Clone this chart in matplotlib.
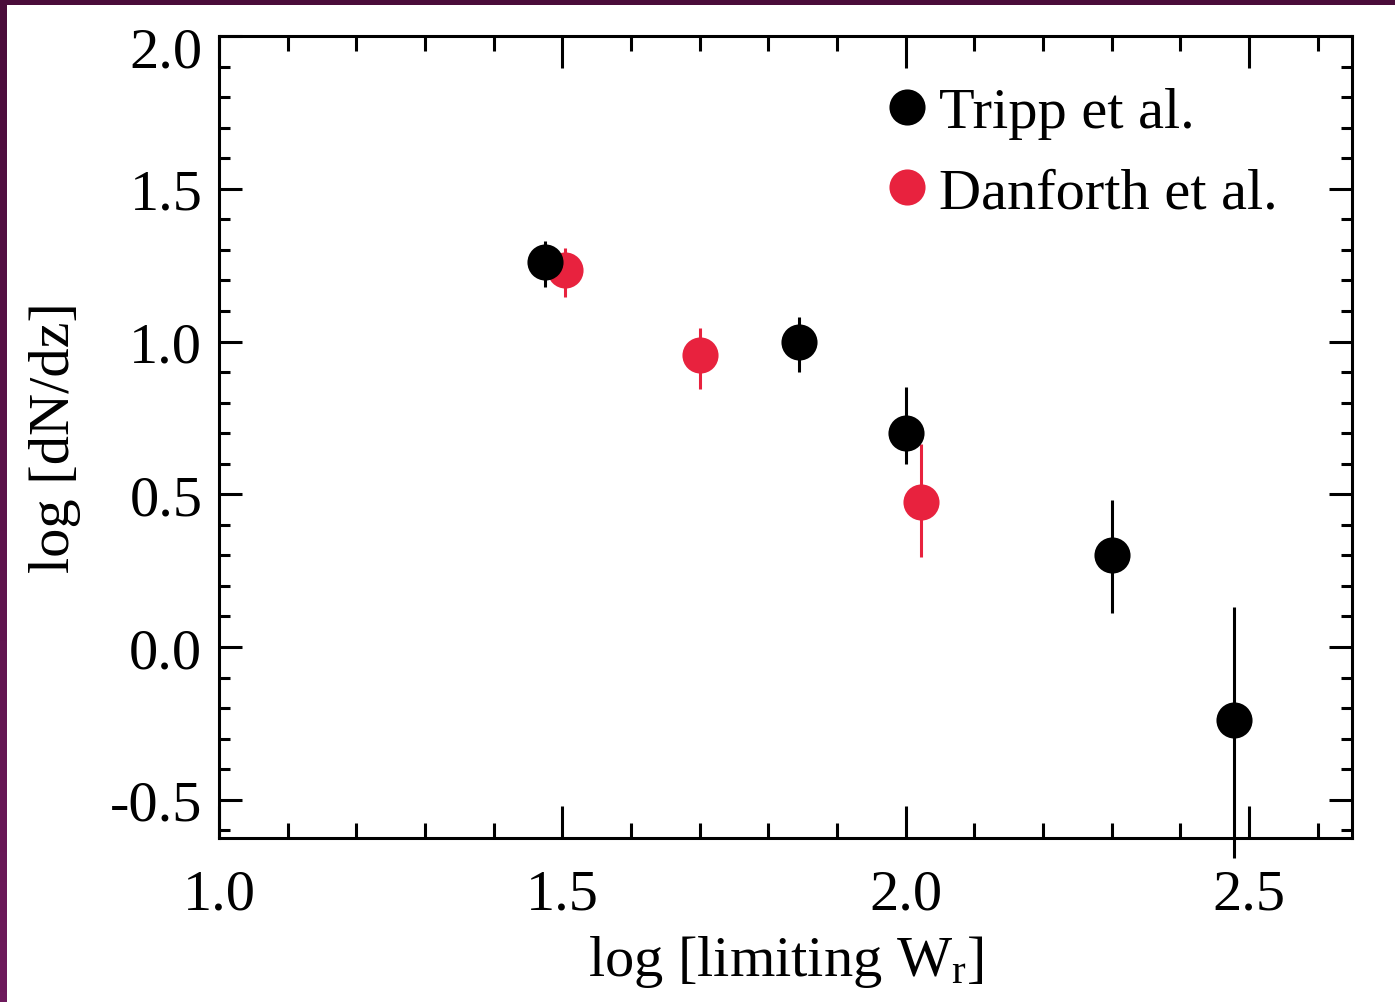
import numpy as np
import matplotlib.pyplot as plt
from matplotlib.transforms import ScaledTranslation

plt.rcParams['font.family'] = ['Liberation Serif', 'DejaVu Serif']
plt.rcParams['mathtext.fontset'] = 'custom'
plt.rcParams['mathtext.rm'] = 'Liberation Serif'
plt.rcParams['mathtext.it'] = 'Liberation Serif'
plt.rcParams['axes.unicode_minus'] = False

# Tripp et al.
tripp_x = [1.475, 1.845, 2.0, 2.30, 2.478]
tripp_y = [1.26, 1.0, 0.70, 0.30, -0.24]
tripp_lo = [0.08, 0.10, 0.10, 0.19, 0.45]
tripp_hi = [0.07, 0.08, 0.15, 0.18, 0.37]

# Danforth et al.
danf_x = [1.504, 1.70, 2.022]
danf_y = [1.235, 0.955, 0.475]
danf_lo = [0.09, 0.11, 0.18]
danf_hi = [0.07, 0.09, 0.19]

red = '#e8223e'

fig = plt.figure(figsize=[13.95, 10.03], dpi=100)
ax = fig.add_axes([219 / 1395, 1 - 839 / 1003, (1352 - 219) / 1395, (839 - 37) / 1003])

# purple frame at top/left edge
bar = fig.add_axes([0, 0, 7 / 1395, 1])
bar.imshow(np.linspace(0, 1, 100).reshape(-1, 1), aspect='auto',
           cmap=plt.matplotlib.colors.LinearSegmentedColormap.from_list('p', ['#4a0c3a', '#6e1a5c']),
           extent=[0, 1, 0, 1], origin='upper')
bar.axis('off')
top = fig.add_axes([0, 1 - 6 / 1003, 1, 6 / 1003])
top.set_facecolor('#4a0c3a')
top.set_xticks([])
top.set_yticks([])
for s in top.spines.values():
    s.set_visible(False)

ax.errorbar(danf_x, danf_y, yerr=[danf_lo, danf_hi], fmt='none', ecolor=red,
            elinewidth=2.2, capsize=0, clip_on=False, zorder=2)
ax.plot(danf_x, danf_y, 'o', color=red, ms=26, mew=0, label='Danforth et al.', zorder=3)
ax.errorbar(tripp_x, tripp_y, yerr=[tripp_lo, tripp_hi], fmt='none', ecolor='black',
            elinewidth=2.2, capsize=0, clip_on=False, zorder=4)
ax.plot(tripp_x, tripp_y, 'o', color='black', ms=26, mew=0, label='Tripp et al.', zorder=5)

ax.set_xlim(1.0, 2.65)
ax.set_ylim(-0.625, 2.0)
ax.set_xticks([1.0, 1.5, 2.0, 2.5])
ax.set_xticks(np.arange(1.1, 2.65, 0.1), minor=True)
ax.set_yticks([-0.5, 0.0, 0.5, 1.0, 1.5, 2.0])
ax.set_yticks(np.arange(-0.6, 2.0, 0.1), minor=True)
ax.set_xticklabels(['1.0', '1.5', '2.0', '2.5'])
ax.set_yticklabels(['-0.5', '0.0', '0.5', '1.0', '1.5', '2.0'])

ax.tick_params(axis='x', which='major', direction='in', length=23, width=2.2, top=True, labelsize=42, pad=22)
ax.tick_params(axis='x', which='minor', direction='in', length=11, width=2.2, top=True)
ax.tick_params(axis='y', which='major', direction='in', length=16.5, width=2.2, right=True, labelsize=42, pad=12)
ax.tick_params(axis='y', which='minor', direction='in', length=8, width=2.2, right=True)
for s in ax.spines.values():
    s.set_linewidth(2.2)

lab = ax.get_yticklabels()[-1]
lab.set_transform(lab.get_transform() + ScaledTranslation(0, -0.10, fig.dpi_scale_trans))

ax.set_xlabel('log [limiting W$_\\mathregular{r}$]', fontsize=42, labelpad=9)
ax.set_ylabel('log [dN/dz]', fontsize=42, labelpad=21)

h, l = ax.get_legend_handles_labels()
ax.legend(h[::-1], l[::-1], loc='upper left', bbox_to_anchor=(0.571, 0.966), frameon=False,
          fontsize=42, handlelength=0.6, handletextpad=0.25, labelspacing=0.46,
          borderaxespad=0, numpoints=1)

fig.savefig('out.png', dpi=100)
